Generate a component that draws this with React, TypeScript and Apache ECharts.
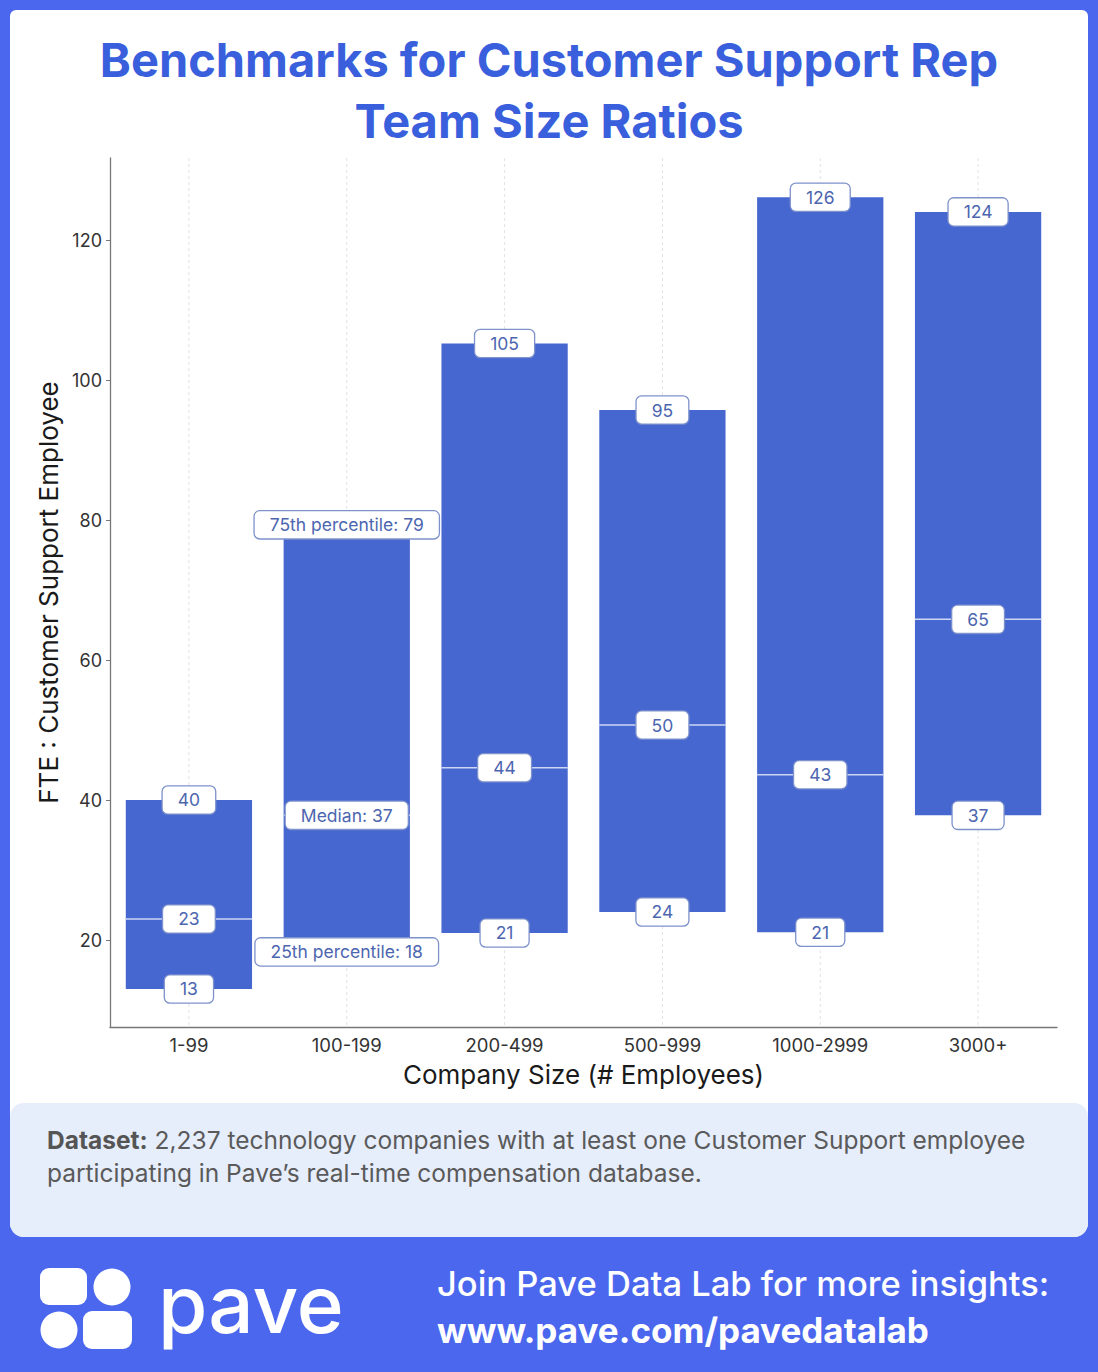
import React, { useEffect, useRef } from "react";
import * as echarts from "echarts";

const categories = ["1-99", "100-199", "200-499", "500-999", "1000-2999", "3000+"];
const p25Values = [13.1, 18.4, 21.1, 24.1, 21.2, 37.9];
const medianValues = [23.1, 37.9, 44.7, 50.8, 43.7, 65.9];
const p75Values = [40.1, 79.4, 105.3, 95.8, 126.2, 124.1];
const yTickValues = [20, 40, 60, 80, 100, 120];
const annotatedIndex = 1;
const prefixLow = "25th percentile: ";
const prefixMid = "Median: ";
const prefixHigh = "75th percentile: ";

const titleLines = ["Benchmarks for Customer Support Rep", "Team Size Ratios"];
const xAxisName = "Company Size (# Employees)";
const yAxisName = "FTE : Customer Support Employee";
const datasetLine1 = "2,237 technology companies with at least one Customer Support employee";
const datasetLine2 = "participating in Pave\u2019s real-time compensation database.";
const footerLine1 = "Join Pave Data Lab for more insights:";
const footerLine2 = "www.pave.com/pavedatalab";

const FONT = "Inter, 'Noto Sans', sans-serif";
const PAGE_BLUE = "#4a67ee";
const TITLE_BLUE = "#3a5fdc";
const BAR = "#4667d0";
const LABEL_COLOR = "#4d66b0";
const LABEL_BORDER = "#7d91cb";

export default function App() {
  const ref = useRef<HTMLDivElement>(null);

  useEffect(() => {
    if (!ref.current) return;
    const chart = echarts.init(ref.current, undefined, { renderer: "svg" });

    const data = categories.map((_, i) => [i, p25Values[i], medianValues[i], p75Values[i]]);

    const renderItem = (params: any, api: any) => {
      const idx = api.value(0);
      const lo = api.coord([idx, api.value(1)]);
      const md = api.coord([idx, api.value(2)]);
      const hi = api.coord([idx, api.value(3)]);
      const band = api.size([1, 0])[0];
      const bw = band * 0.8;
      const cs = params.coordSys;
      const cx = lo[0];
      const annotated = params.dataIndex === annotatedIndex;
      const mk = (v: number, prefix: string, y: number) => ({
        type: "text",
        x: cx,
        y,
        z2: 10,
        style: {
          text: (annotated ? prefix : "") + Math.floor(v),
          align: "center",
          verticalAlign: "middle",
          fill: LABEL_COLOR,
          fontSize: 17.5,
          fontFamily: FONT,
          backgroundColor: "#ffffff",
          borderColor: LABEL_BORDER,
          borderWidth: 1.3,
          borderRadius: 5,
          padding: [5, 15, 4, 15],
        },
      });
      return {
        type: "group",
        children: [
          {
            type: "line",
            shape: { x1: cx, y1: cs.y, x2: cx, y2: cs.y + cs.height },
            style: { stroke: "#e2e2e2", lineWidth: 1, lineDash: [3, 3] },
            silent: true,
          },
          {
            type: "rect",
            shape: { x: cx - bw / 2, y: hi[1], width: bw, height: lo[1] - hi[1] },
            style: { fill: BAR },
          },
          {
            type: "line",
            shape: { x1: cx - bw / 2, y1: md[1], x2: cx + bw / 2, y2: md[1] },
            style: { stroke: "#cdd7f4", lineWidth: 1.5 },
          },
          mk(api.value(3), prefixHigh, hi[1]),
          mk(api.value(2), prefixMid, md[1]),
          mk(api.value(1), prefixLow, lo[1]),
        ],
      };
    };

    const option: any = {
      animation: false,
      grid: { left: 110, right: 41, top: 158, bottom: 345 },
      xAxis: {
        type: "category",
        data: categories,
        boundaryGap: true,
        axisLine: { lineStyle: { color: "#777", width: 1.3 } },
        axisTick: { alignWithLabel: true, length: 4, lineStyle: { color: "#777" } },
        axisLabel: { fontSize: 18.5, color: "#333", margin: 8, fontFamily: FONT },
        splitLine: { show: false },
        name: xAxisName,
        nameLocation: "middle",
        nameGap: 34,
        nameTextStyle: { fontSize: 26, color: "#1a1a1a", fontFamily: FONT },
      },
      yAxis: {
        type: "value",
        min: 7.67,
        max: 131.8,
        axisLine: { show: true, lineStyle: { color: "#777", width: 1.3 } },
        axisTick: { show: true, length: 4, lineStyle: { color: "#777" }, customValues: yTickValues },
        axisLabel: { fontSize: 18, color: "#333", margin: 8, fontFamily: FONT, customValues: yTickValues },
        splitLine: { show: false },
        name: yAxisName,
        nameLocation: "middle",
        nameGap: 46,
        nameTextStyle: { fontSize: 26, color: "#1a1a1a", fontFamily: FONT },
      },
      series: [
        {
          type: "custom",
          renderItem,
          data,
          encode: { x: 0, y: [1, 2, 3] },
          z: 5,
        },
      ],
      graphic: [
        { type: "rect", z: -10, silent: true, shape: { x: 0, y: 0, width: 1098, height: 1372 }, style: { fill: PAGE_BLUE } },
        { type: "rect", z: -9, silent: true, shape: { x: 10, y: 10, width: 1078, height: 1227, r: [6, 6, 14, 14] }, style: { fill: "#ffffff" } },
        { type: "rect", z: -8, silent: true, shape: { x: 10, y: 1103, width: 1078, height: 134, r: 14 }, style: { fill: "#e6edfb" } },
        {
          type: "text", z: 1, x: 549, y: 59,
          style: { text: titleLines[0], align: "center", verticalAlign: "middle", fill: TITLE_BLUE, fontSize: 47, fontWeight: 700, fontFamily: FONT },
        },
        {
          type: "text", z: 1, x: 549, y: 120,
          style: { text: titleLines[1], align: "center", verticalAlign: "middle", fill: TITLE_BLUE, fontSize: 47, fontWeight: 700, fontFamily: FONT },
        },
        {
          type: "text", z: 1, x: 47, y: 1156,
          style: {
            text: "{b|Dataset:} " + datasetLine1 + "\n" + datasetLine2,
            align: "left", verticalAlign: "middle",
            fill: "#5a5a5a", fontSize: 24.5, fontFamily: FONT, lineHeight: 33,
            rich: { b: { fontWeight: 700, fill: "#555", fontSize: 24.5, fontFamily: FONT } },
          },
        },
        { type: "rect", z: 1, shape: { x: 40, y: 1268, width: 47, height: 37, r: 9 }, style: { fill: "#ffffff" } },
        { type: "circle", z: 1, shape: { cx: 112, cy: 1287, r: 18.5 }, style: { fill: "#ffffff" } },
        { type: "circle", z: 1, shape: { cx: 59, cy: 1330, r: 18.5 }, style: { fill: "#ffffff" } },
        { type: "rect", z: 1, shape: { x: 83, y: 1311, width: 49, height: 38, r: 9 }, style: { fill: "#ffffff" } },
        {
          type: "text", z: 1, x: 158, y: 1303,
          style: { text: "pave", align: "left", verticalAlign: "middle", fill: "#ffffff", fontSize: 80, fontWeight: 500, fontFamily: FONT },
        },
        {
          type: "text", z: 1, x: 437, y: 1283,
          style: { text: footerLine1, align: "left", verticalAlign: "middle", fill: "#ffffff", fontSize: 34.5, fontWeight: 500, fontFamily: FONT },
        },
        {
          type: "text", z: 1, x: 437, y: 1330,
          style: { text: footerLine2, align: "left", verticalAlign: "middle", fill: "#ffffff", fontSize: 35, fontWeight: 700, fontFamily: FONT },
        },
      ],
    };

    chart.setOption(option);
    return () => chart.dispose();
  }, []);

  return (
    <div
      ref={ref}
      style={{ position: "absolute", left: 0, top: 0, width: 1098, height: 1372 }}
    />
  );
}
